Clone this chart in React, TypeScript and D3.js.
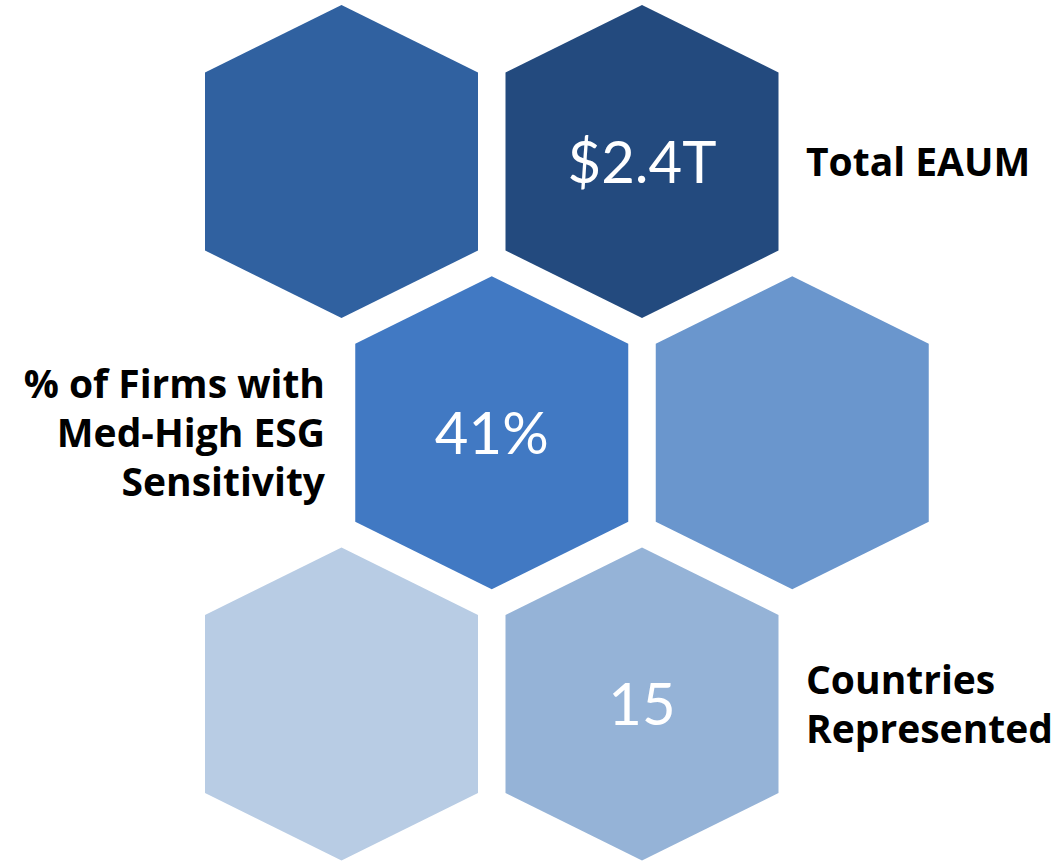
import React from "react";
import * as d3 from "d3";

const hexCols = [0, 1, 0.5, 1.5, 0, 1];
const hexRows = [0, 0, 1, 1, 2, 2];
const hexColors = ["#3061A0", "#234A7E", "#4179C3", "#6A96CD", "#B8CCE4", "#95B3D7"];

const valueHex = [1, 2, 5];
const values = ["$2.4T", "41%", "15"];

const labelLines = [["Total EAUM"], ["% of Firms with", "Med-High ESG", "Sensitivity"], ["Countries", "Represented"]];
const labelAnchor = ["start", "end", "start"];

const W = 1059;
const H = 862;

export default function App() {
  const x = d3.scaleLinear().domain([0, 1]).range([341.5, 642]);
  const y = d3.scaleLinear().domain([0, 2]).range([161.5, 704]);
  const hw = 136.5;
  const hh = 156.5;
  const tip = 67.5;
  const line = d3.line<[number, number]>().curve(d3.curveLinearClosed);
  const hexPath = (cx: number, cy: number) =>
    line([
      [cx, cy - hh],
      [cx + hw, cy - hh + tip],
      [cx + hw, cy + hh - tip],
      [cx, cy + hh],
      [cx - hw, cy + hh - tip],
      [cx - hw, cy - hh + tip],
    ]) as string;

  const labelX = [806, 325, 806];
  const labelRow = [0, 1, 2];
  const lineH = 49;
  const labelFont = 39;
  const capH = labelFont * 0.72;

  return (
    <svg width={W} height={H} style={{ position: "absolute", left: 0, top: 0, background: "#fff" }}>
      {hexCols.map((c, i) => (
        <path key={i} d={hexPath(x(c), y(hexRows[i]))} fill={hexColors[i]} />
      ))}
      {values.map((v, i) => {
        const h = valueHex[i];
        return (
          <text
            key={"v" + i}
            x={x(hexCols[h])}
            y={y(hexRows[h]) + 21}
            textAnchor="middle"
            fill="#fff"
            fontFamily="Lato, 'Open Sans', sans-serif"
            fontSize={58}
          >
            {v}
          </text>
        );
      })}
      {labelLines.map((lines, i) => {
        const cy = y(labelRow[i]);
        const n = lines.length;
        const firstBase = cy - ((n - 1) * lineH) / 2 + capH / 2;
        return (
          <text
            key={"l" + i}
            textAnchor={labelAnchor[i] as any}
            fontFamily="'Open Sans', Lato, sans-serif"
            fontWeight="bold"
            fontSize={labelFont}
            fill="#000"
          >
            {lines.map((t, j) => (
              <tspan key={j} x={labelX[i]} y={firstBase + j * lineH}>
                {t}
              </tspan>
            ))}
          </text>
        );
      })}
    </svg>
  );
}
